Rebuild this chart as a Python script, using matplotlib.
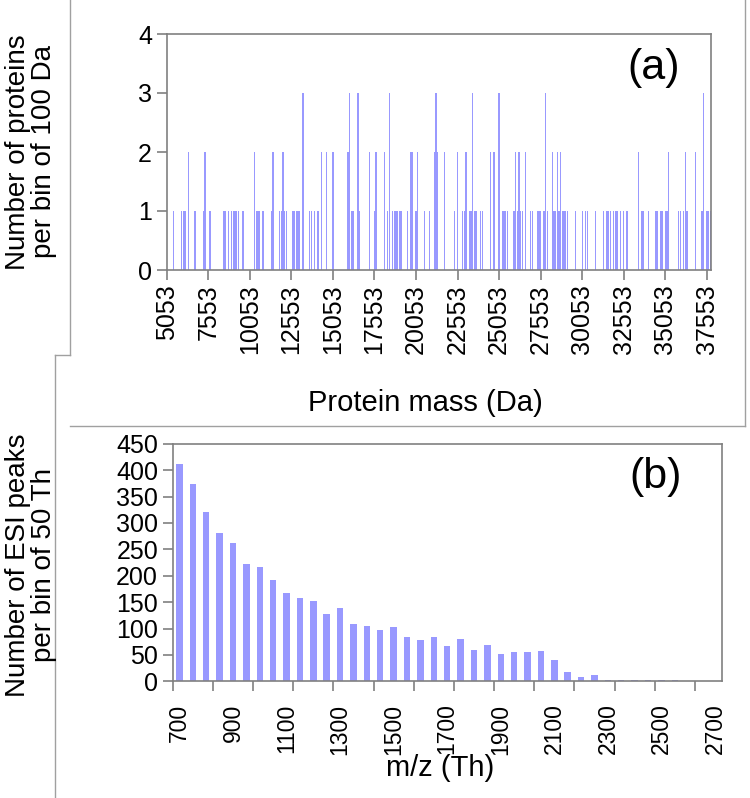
import matplotlib
matplotlib.use("Agg")
import matplotlib.pyplot as plt
from matplotlib.lines import Line2D

plt.rcParams['font.family'] = ['Liberation Sans', 'DejaVu Sans']

# ---------------- data: panel (a) ----------------
# protein mass bins (Da, bin of 100 Da starting at 5053) that hold at least one protein
protein_mass = [
    5053, 5453, 5953, 6053, 6153, 6353, 6753, 7253, 7353, 7653, 8453, 8553, 8753, 8953, 9053,
    9153, 9253, 9353, 9653,
    10353, 10453, 10553, 10653, 10853, 11353, 11453, 11853, 11953, 12053, 12153, 12253, 12653,
    12753, 12853, 12953, 13053, 13253, 13653, 13753, 13953, 14153, 14353, 14653, 15053,
    15953, 16053, 16153, 16253, 16553, 16653, 17253, 17553, 17653, 18153, 18353, 18453, 18653,
    18753, 18853, 18953, 19053, 19153, 19553, 19753, 19853, 20053, 20153, 20553, 20853, 21153,
    21253, 21353,
    21753, 22353, 22553, 22853, 22953, 23053, 23253, 23353, 23453, 23553, 23653, 23953, 24053,
    24553, 24753, 25053, 25253, 25353, 25453, 25553, 25953, 26053, 26153, 26253, 26353, 26453,
    26653, 26953, 27053, 27353, 27453, 27553, 27753, 27853, 27953, 28253, 28353, 28453, 28553,
    28653, 28753, 28853, 28953, 29053, 29153, 29653, 30053, 30253, 30353, 30853, 31353, 31553,
    31653, 31753, 31953, 32053, 32153, 32353, 32553, 32753, 33453, 33653, 33753, 34053, 34453,
    34553, 34753, 34853, 35053, 35153, 35253, 35853, 35953, 36153, 36253, 36353, 36853, 37253,
    37353, 37553, 37653, 37753,
]
protein_count = [
    4, 1, 1, 1, 1, 2, 1, 1, 2, 1, 1, 1, 1, 1, 1,
    1, 1, 1, 1,
    2, 1, 1, 1, 1, 1, 2, 1, 1, 2, 1, 1, 1,
    1, 1, 1, 1, 3, 1, 1, 1, 1, 2, 2, 2,
    2, 3, 1, 1, 3, 1, 2, 1, 2, 2, 1, 3, 1,
    1, 1, 1, 1, 1, 1, 2, 2, 1, 2, 1, 1, 2,
    3, 2,
    2, 1, 2, 1, 1, 2, 1, 1, 3, 1, 1, 1, 1,
    2, 2, 3, 1, 1, 1, 1, 1, 2, 1, 2, 1, 1,
    2, 1, 1, 1, 1, 1, 1, 3, 1, 2, 1, 1, 2,
    1, 2, 1, 1, 1, 1, 1, 1, 1, 1, 1, 1, 1,
    1, 1, 1, 1, 1, 1, 1, 1, 2, 1, 1, 1, 1,
    1, 1, 1, 1, 1, 2, 1, 1, 1, 2, 1, 2, 1,
    3, 1, 1, 1,
]
mass_ticks = [5053, 7553, 10053, 12553, 15053, 17553, 20053, 22553, 25053,
              27553, 30053, 32553, 35053, 37553]

# ---------------- data: panel (b) ----------------
mz_bins = [700, 750, 800, 850, 900, 950, 1000, 1050, 1100, 1150, 1200, 1250, 1300, 1350,
           1400, 1450, 1500, 1550, 1600, 1650, 1700, 1750, 1800, 1850, 1900, 1950, 2000,
           2050, 2100, 2150, 2200, 2250, 2300, 2350, 2400, 2450, 2500, 2550, 2600, 2650, 2700]
esi_peaks = [412, 373, 320, 280, 261, 223, 217, 191, 167, 158, 153, 127, 138, 108,
             105, 98, 103, 83, 79, 83, 66, 81, 59, 68, 52, 55, 55,
             57, 40, 18, 8, 11, 2, 2, 2, 2, 2, 2, 0, 0, 0]
mz_labels = [700, 900, 1100, 1300, 1500, 1700, 1900, 2100, 2300, 2500, 2700]
esi_yticks = [0, 50, 100, 150, 200, 250, 300, 350, 400, 450]

BAR = '#9999ff'
GREY = '#808080'
W, H = 750, 798

fig = plt.figure(figsize=(7.5, 7.98), dpi=100)


def fx(x):
    return x / W


def fy(y):
    return 1 - y / H


# outer frames of the two pasted chart objects
for (x0, y0, x1, y1) in [(70, 0, 70, 355), (55, 355, 70, 355), (55, 355, 55, 798),
                         (70, 426, 745, 426), (745, 0, 745, 426)]:
    fig.add_artist(Line2D([fx(x0), fx(x1)], [fy(y0), fy(y1)], color='#a0a0a0', lw=1))

# ---------------- panel (a) ----------------
ax1 = fig.add_axes([fx(166.7), fy(270), 544 / W, 236 / H])
ax1.bar(protein_mass, protein_count, width=80, color=BAR, linewidth=0)
ax1.set_xlim(5053, 5053 + 100 * 327.3)
ax1.set_ylim(0, 4)
ax1.set_yticks([0, 1, 2, 3, 4])
ax1.set_xticks(mass_ticks)
ax1.set_xticklabels([str(m) for m in mass_ticks], rotation=90)
ax1.text(0.896, 0.856, '(a)', transform=ax1.transAxes, fontsize=31,
         ha='center', va='center')

# ---------------- panel (b) ----------------
ax2 = fig.add_axes([fx(172.7), fy(681.3), 549 / W, 237.6 / H])
xpos = list(range(len(mz_bins)))
ax2.bar(xpos, esi_peaks, width=0.48, color=BAR, linewidth=0)
ax2.set_xlim(-0.5, len(mz_bins) - 0.5)
ax2.set_ylim(0, 450)
ax2.set_yticks(esi_yticks)
ax2.set_xticks([i - 0.5 for i in range(0, len(mz_bins), 3)])
ax2.set_xticklabels([])
ax2.set_xticks([mz_bins.index(v) for v in mz_labels], minor=True)
ax2.set_xticklabels([str(v) for v in mz_labels], minor=True, rotation=90)
ax2.tick_params(axis='x', which='minor', length=0, pad=16)
ax2.text(0.88, 0.86, '(b)', transform=ax2.transAxes, fontsize=31,
         ha='center', va='center')

for ax in (ax1, ax2):
    for s in ax.spines.values():
        s.set_color(GREY)
        s.set_linewidth(1.2)
    ax.tick_params(which='major', direction='out', length=7, width=1.2, color=GREY)
    ax.tick_params(axis='y', labelsize=18)
ax1.tick_params(axis='x', labelsize=18)
ax2.tick_params(axis='x', which='both', labelsize=16.5)

# axis titles
fig.text(fx(31), fy(152), 'Number of proteins\nper bin of 100 Da', rotation=90,
         ha='center', va='center', fontsize=20, linespacing=1.0)
fig.text(fx(425), fy(403), 'Protein mass (Da)', ha='center', va='center', fontsize=21)
fig.text(fx(31), fy(565), 'Number of ESI peaks\nper bin of 50 Th', rotation=90,
         ha='center', va='center', fontsize=20, linespacing=1.0)
fig.text(fx(440), fy(768), 'm/z (Th)', ha='center', va='center', fontsize=21)

fig.savefig('out.png', dpi=100, facecolor='white')
